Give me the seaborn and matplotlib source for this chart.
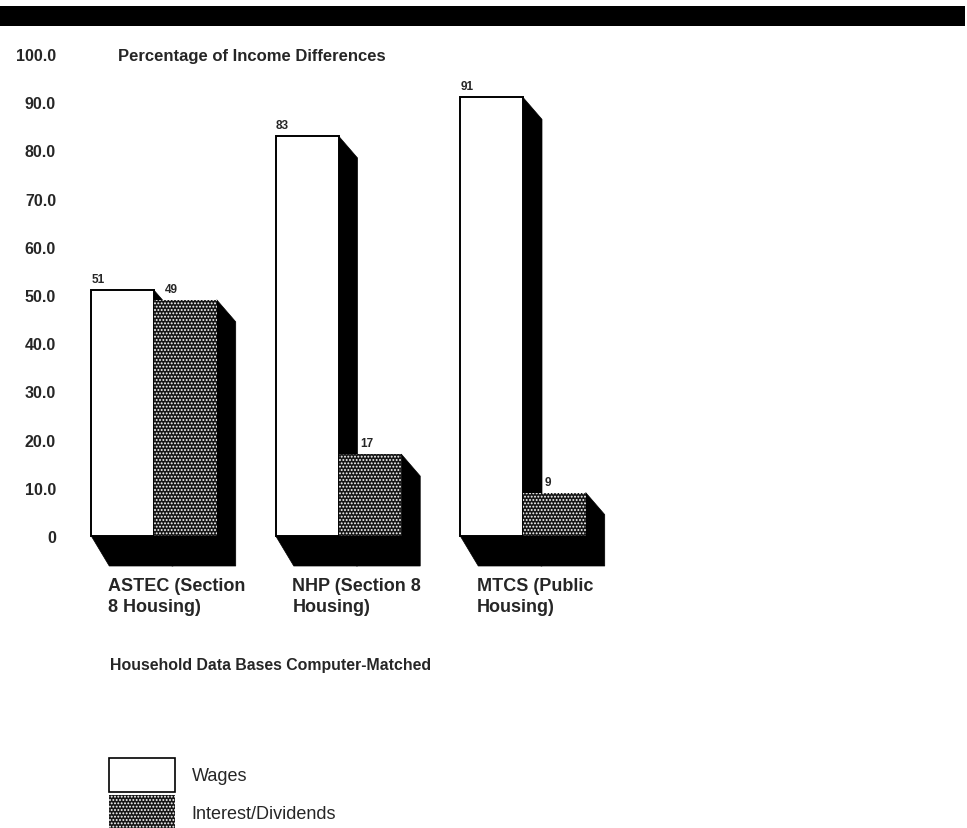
import matplotlib
matplotlib.use("Agg")
import matplotlib.pyplot as plt
from matplotlib.patches import Rectangle, Polygon, Patch
from matplotlib.transforms import ScaledTranslation
import numpy as np
import pandas as pd
import seaborn as sns

# --- data -------------------------------------------------------------
databases = ["ASTEC (Section\n8 Housing)", "NHP (Section 8\nHousing)", "MTCS (Public\nHousing)"]
wages = [51, 83, 91]
interest = [49, 17, 9]
sources = ["Wages", "Interest/Dividends"]
y_ticks = [0, 10, 20, 30, 40, 50, 60, 70, 80, 90, 100]
y_tick_labels = ["0", "10.0", "20.0", "30.0", "40.0", "50.0", "60.0", "70.0", "80.0", "90.0", "100.0"]

df = pd.DataFrame({
    "database": databases * 2,
    "source": [sources[0]] * 3 + [sources[1]] * 3,
    "pct": wages + interest,
})

# --- style ------------------------------------------------------------
sns.set_style("white")
plt.rcParams["font.family"] = ["Liberation Sans", "DejaVu Sans"]
plt.rcParams["hatch.linewidth"] = 0.9

W, H = 967, 829
fig = plt.figure(figsize=(W / 100, H / 100), dpi=100)

# axes placed in pixel terms
ax_left, ax_right, ax_top, ax_bottom = 70, 960, 50, 570
ax = fig.add_axes([ax_left / W, 1 - ax_bottom / H, (ax_right - ax_left) / W, (ax_bottom - ax_top) / H])

STIPPLE_BG = "#161616"
palette = {sources[0]: "white", sources[1]: STIPPLE_BG}

sns.barplot(data=df, x="database", y="pct", hue="source", hue_order=sources,
            palette=palette, width=0.68, dodge=True, saturation=1,
            legend=False, ax=ax, errorbar=None)

# scale: 184.5 px per category, first group centred at x=154 px; 4.82 px per percent, 0 at y=537 px
px_per_cat = 184.5
px_per_pct = 4.82
ax.set_xlim((ax_left - 154) / px_per_cat, (ax_right - 154) / px_per_cat)
ax.set_ylim((537 - ax_bottom) / px_per_pct, (537 - ax_top) / px_per_pct)

wage_bars = ax.containers[0]
int_bars = ax.containers[1]
for p in wage_bars:
    p.set_facecolor("white")
    p.set_edgecolor("black")
    p.set_linewidth(1.4)
    p.set_zorder(2)
for p in int_bars:
    p.set_facecolor(STIPPLE_BG)
    p.set_edgecolor("white")
    p.set_hatch(".....")
    p.set_linewidth(0)
    p.set_zorder(2)

# black extruded depth behind every bar
dx_side, dy_top, dx_floor, dy_floor = 19, 22, 18, 30
to_disp = ax.transData
to_data = ax.transData.inverted()
for p in list(wage_bars) + list(int_bars):
    x0, x1 = p.get_x(), p.get_x() + p.get_width()
    t = p.get_height()
    (X0, B), (X1, T) = to_disp.transform([(x0, 0), (x1, t)])
    pts = [(X0, B), (X0 + dx_floor, B - dy_floor), (X1 + dx_side, B - dy_floor),
           (X1 + dx_side, T - dy_top), (X1, T), (X1, B)]
    poly = Polygon(to_data.transform(pts), closed=True, facecolor="black",
                   edgecolor="black", linewidth=0.5, zorder=1, clip_on=False)
    ax.add_patch(poly)

# value labels
for p, v in zip(wage_bars, wages):
    ax.annotate(f"{v}", xy=(p.get_x(), v), xytext=(0, 5), textcoords="offset pixels",
                ha="left", va="bottom", fontsize=8.5, fontweight="bold")
for p, v, w in zip(int_bars, interest, wages):
    shift = 22 if w - v > 5 else 11
    ax.annotate(f"{v}", xy=(p.get_x(), v), xytext=(shift, 5), textcoords="offset pixels",
                ha="left", va="bottom", fontsize=8.5, fontweight="bold")

# axes cosmetics
sns.despine(ax=ax, left=True, bottom=True)
ax.set_xlabel("")
ax.set_ylabel("")
ax.set_yticks(y_ticks)
ax.set_yticklabels(y_tick_labels, fontsize=11.5, fontweight="bold")
ax.tick_params(axis="y", length=0, pad=10)
ax.set_xticks(range(len(databases)))
ax.set_xticklabels(databases, fontsize=13, fontweight="bold", ha="left", linespacing=1.35)
ax.tick_params(axis="x", length=0, pad=5.5)
shift = ScaledTranslation(-46 / 100, 0, fig.dpi_scale_trans)
for lab in ax.get_xticklabels():
    lab.set_transform(lab.get_transform() + shift)
ax.grid(False)
ax.set_facecolor("none")

# heading band and titles
fig.patches.append(Rectangle((0, 1 - 27 / H), 965 / W, 20 / H, transform=fig.transFigure,
                             facecolor="black", edgecolor="none", zorder=0))
fig.text(118 / W, 1 - 56 / H, "Percentage of Income Differences", fontsize=12,
         fontweight="bold", ha="left", va="center")
fig.text(110 / W, 1 - 666 / H, "Household Data Bases Computer-Matched", fontsize=11.4,
         fontweight="bold", ha="left", va="center")

# legend
handles = [Patch(facecolor="white", edgecolor="black", linewidth=1.2),
           Patch(facecolor=STIPPLE_BG, edgecolor="white", hatch=".....", linewidth=0)]
fig.legend(handles, sources, loc="upper left", bbox_to_anchor=(109 / W, 1 - 759 / H),
           frameon=False, fontsize=13, handlelength=3.67, handleheight=2.5,
           handletextpad=0.9, labelspacing=0.2, borderpad=0, borderaxespad=0)

fig.savefig("out.png", dpi=100)
